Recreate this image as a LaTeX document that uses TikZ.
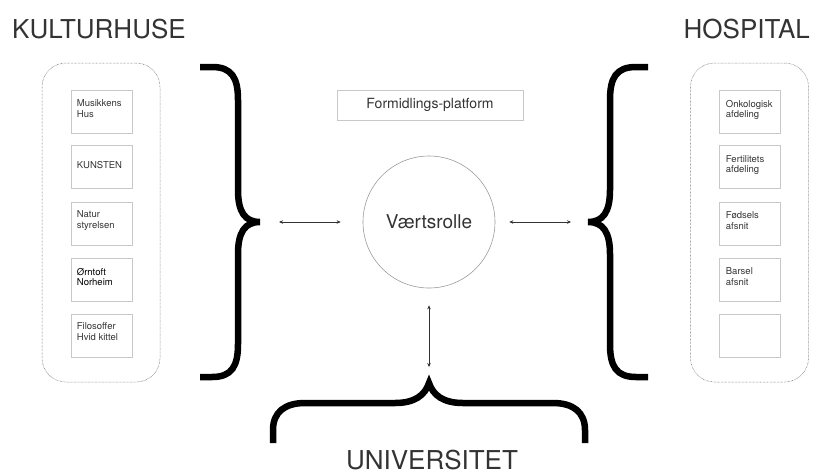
\documentclass[tikz,border=0pt]{standalone}
\usepackage{fontspec}
\setmainfont{TeX Gyre Heros}
\usetikzlibrary{positioning,arrows.meta}
\definecolor{ink}{HTML}{333333}
\definecolor{boxline}{HTML}{C8C8C8}
\definecolor{ringline}{HTML}{9A9A9A}
\tikzset{
  unitbox/.style={draw=boxline, line width=0.6pt, minimum width=61pt, minimum height=43pt, inner sep=0pt},
  unitlabel/.style={text=ink, font=\fontsize{9.5}{10.5}\selectfont, align=left, inner sep=0pt},
  groupbox/.style={draw=gray!85!black, line width=0.5pt, dash pattern=on 0.6pt off 0.8pt, rounded corners=24pt, minimum width=118pt, minimum height=319pt, inner sep=0pt},
  titletext/.style={text=ink, font=\fontsize{26}{30}\selectfont, inner sep=0pt},
  brace/.style={line width=6.5pt},
  biarrow/.style={{Stealth[length=4pt,width=3.5pt]}-{Stealth[length=4pt,width=3.5pt]}, line width=0.6pt, draw=ink},
}
\begin{document}
\begin{tikzpicture}[x=1pt,y=-1pt]
\useasboundingbox (0,0) rectangle (814,475);
% titles
\node[titletext, anchor=base west] (kultur) at (12,38) {KULTURHUSE};
\node[titletext, anchor=base east] (hospital) at (810,38) {HOSPITAL};
\node[titletext, anchor=base] (uni) at (432,469) {UNIVERSITET};
% kulturhuse
\node[groupbox] (kgroup) at (101,222.5) {};
\node[unitbox] (k1) at (101.5,111.5) {};
\node[unitbox] (k2) at (101.5,167) {};
\node[unitbox] (k3) at (101.5,223.5) {};
\node[unitbox] (k4) at (101.5,279.5) {};
\node[unitbox] (k5) at (101.5,335.5) {};
\node[unitlabel, below right=10pt and 6pt of k1.north west] (k1text) {Musikkens\\Hus};
\node[unitlabel, below right=16pt and 6pt of k2.north west] (k2text) {KUNSTEN};
\node[unitlabel, below right=9pt and 6pt of k3.north west] (k3text) {Natur\\styrelsen};
\node[unitlabel, below right=10pt and 6pt of k4.north west, text=black] (k4text) {Ørntoft\\Norheim};
\node[unitlabel, below right=9pt and 6pt of k5.north west] (k5text) {Filosoffer\\Hvid kittel};
% hospital
\node[groupbox] (hgroup) at (749.5,222.5) {};
\node[unitbox] (h1) at (749.5,111.5) {};
\node[unitbox] (h2) at (749.5,167) {};
\node[unitbox] (h3) at (749.5,223.5) {};
\node[unitbox] (h4) at (749.5,279.5) {};
\node[unitbox] (h5) at (749.5,335.5) {};
\node[unitlabel, below right=10pt and 7pt of h1.north west] (h1text) {Onkologisk\\afdeling};
\node[unitlabel, below right=10pt and 7pt of h2.north west] (h2text) {Fertilitets\\afdeling};
\node[unitlabel, below right=10pt and 7pt of h3.north west] (h3text) {Fødsels\\afsnit};
\node[unitlabel, below right=10pt and 7pt of h4.north west] (h4text) {Barsel\\afsnit};
% centre
\node[draw=boxline, line width=0.6pt, minimum width=186pt, minimum height=30pt, text=ink, font=\fontsize{14}{14}\selectfont] (platform) at (430,105) {Formidlings-platform};
\node[draw=ringline, circle, line width=0.6pt, minimum size=132pt, inner sep=0pt, text=ink, font=\fontsize{19}{19}\selectfont] (vaert) at (429,222) {Værtsrolle};
% braces
\draw[brace] (200,67) -- (212,67) .. controls (232,67) and (238,78) .. (238,100) -- (238,190)
  .. controls (238,212) and (245,222) .. (260,222) coordinate (ltip)
  .. controls (245,222) and (238,232) .. (238,254) -- (238,344)
  .. controls (238,366) and (232,377) .. (212,377) -- (200,377);
\draw[brace] (648,67) -- (636,67) .. controls (616,67) and (610,78) .. (610,100) -- (610,190)
  .. controls (610,212) and (603,222) .. (588,222) coordinate (rtip)
  .. controls (603,222) and (610,232) .. (610,254) -- (610,344)
  .. controls (610,366) and (616,377) .. (636,377) -- (648,377);
\draw[brace] (273,443) -- (273,430) .. controls (273,412) and (285,403) .. (305,403) -- (395,403)
  .. controls (415,403) and (425,395) .. (429,383) coordinate (btip)
  .. controls (433,395) and (443,403) .. (463,403) -- (553,403)
  .. controls (573,403) and (585,412) .. (585,430) -- (585,443);
% arrows
\draw[biarrow, shorten <=19pt, shorten >=22pt] (ltip) -- (vaert.west);
\draw[biarrow, shorten <=14pt, shorten >=17pt] (vaert.east) -- (rtip);
\draw[biarrow, shorten <=17pt, shorten >=16pt] (vaert.south) -- (btip);
\end{tikzpicture}
\end{document}
